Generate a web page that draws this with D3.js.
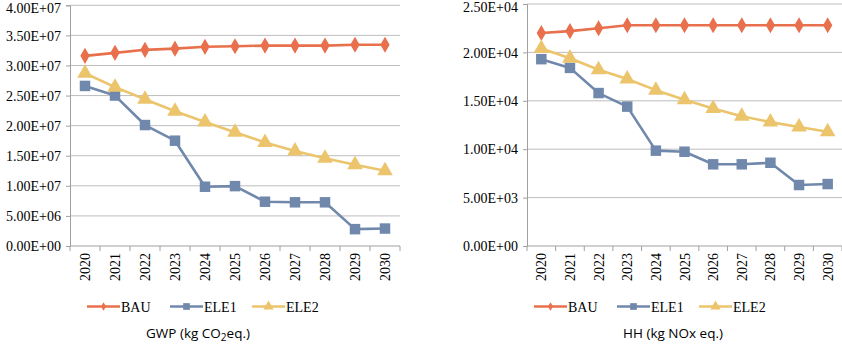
<!DOCTYPE html>
<html>
<head>
<meta charset="utf-8">
<script src="https://cdn.jsdelivr.net/npm/d3@7"></script>
<style>
  body { margin: 0; background: #fff; }
  svg { display: block; }
</style>
</head>
<body>
<svg id="chart" width="842" height="347"></svg>
<script>
const years = ["2020", "2021", "2022", "2023", "2024", "2025", "2026", "2027", "2028", "2029", "2030"];
const seriesNames = ["BAU", "ELE1", "ELE2"];

// GWP (kg CO2 eq.)
const gwpBAU  = [3.16e7, 3.21e7, 3.26e7, 3.28e7, 3.31e7, 3.32e7, 3.33e7, 3.33e7, 3.33e7, 3.345e7, 3.345e7];
const gwpELE1 = [2.66e7, 2.50e7, 2.01e7, 1.75e7, 0.985e7, 0.995e7, 0.736e7, 0.726e7, 0.726e7, 0.28e7, 0.29e7];
const gwpELE2 = [2.87e7, 2.64e7, 2.44e7, 2.24e7, 2.06e7, 1.89e7, 1.72e7, 1.58e7, 1.46e7, 1.35e7, 1.25e7];
const gwpTicks = [0, 0.5e7, 1.0e7, 1.5e7, 2.0e7, 2.5e7, 3.0e7, 3.5e7, 4.0e7];

// HH (kg NOx eq.)
const hhBAU  = [2.20e4, 2.22e4, 2.25e4, 2.28e4, 2.28e4, 2.28e4, 2.28e4, 2.28e4, 2.28e4, 2.28e4, 2.28e4];
const hhELE1 = [1.93e4, 1.84e4, 1.58e4, 1.44e4, 0.985e4, 0.974e4, 0.844e4, 0.844e4, 0.86e4, 0.63e4, 0.64e4];
const hhELE2 = [2.04e4, 1.94e4, 1.82e4, 1.725e4, 1.61e4, 1.51e4, 1.42e4, 1.34e4, 1.28e4, 1.23e4, 1.18e4];
const hhTicks = [0, 0.5e4, 1.0e4, 1.5e4, 2.0e4, 2.5e4];

const colors = { BAU: "#E8704C", ELE1: "#7088AC", ELE2: "#EBC46B" };
const serif = "'Liberation Serif', 'Times New Roman', serif";
const sans = "'Open Sans', 'Noto Sans', sans-serif";

const svg = d3.select("#chart");

function sciFormat(v) {
    const parts = v.toExponential(2).split("e");
    const exp = parseInt(parts[1], 10);
    const sign = exp < 0 ? "-" : "+";
    return parts[0] + "E" + sign + String(Math.abs(exp)).padStart(2, "0");
}

function markerPath(name, size) {
    if (name === "BAU") return d3.symbol(d3.symbolDiamond, size)();
    if (name === "ELE1") return d3.symbol(d3.symbolSquare, size)();
    return d3.symbol(d3.symbolTriangle, size)();
}

function drawChart(opts) {
    const { left, right, top, bottom, max, ticks, series, title, titleX, legendX } = opts;

    const x = d3.scaleBand().domain(years).range([left, right]).padding(0);
    const y = d3.scaleLinear().domain([0, max]).range([bottom, top]);

    const g = svg.append("g");

    // gridlines
    g.selectAll(".grid")
        .data(ticks.filter(t => t > 0))
        .enter()
        .append("line")
        .attr("x1", left)
        .attr("x2", right)
        .attr("y1", d => y(d))
        .attr("y2", d => y(d))
        .attr("stroke", "#BDBDBD")
        .attr("stroke-width", 1);

    // y axis
    const yAxis = g.append("g")
        .attr("transform", `translate(${left},0)`)
        .call(d3.axisLeft(y).tickValues(ticks).tickSize(4).tickPadding(5).tickFormat(sciFormat));
    yAxis.attr("font-family", serif).attr("font-size", 14);
    yAxis.select(".domain").attr("stroke", "#A0A0A0");
    yAxis.selectAll(".tick line").attr("stroke", "#A0A0A0");
    yAxis.selectAll(".tick text")
        .attr("fill", "#000")
        .attr("dy", d => d === max ? "0.5em" : "0.33em");

    // x axis line + ticks at band boundaries
    g.append("line")
        .attr("x1", left).attr("x2", right)
        .attr("y1", bottom).attr("y2", bottom)
        .attr("stroke", "#A0A0A0");
    const bounds = years.map(d => x(d)).concat([right]);
    g.selectAll(".xtick")
        .data(bounds)
        .enter()
        .append("line")
        .attr("x1", d => d).attr("x2", d => d)
        .attr("y1", bottom).attr("y2", bottom + 5)
        .attr("stroke", "#A0A0A0");

    g.selectAll(".year")
        .data(years)
        .enter()
        .append("text")
        .attr("font-family", serif)
        .attr("font-size", 14)
        .attr("transform", d => `translate(${x(d) + x.bandwidth() / 2 + 5},${bottom + 7}) rotate(-90)`)
        .attr("text-anchor", "end")
        .text(d => d);

    // lines
    const line = d3.line()
        .x((d, i) => x(years[i]) + x.bandwidth() / 2)
        .y(d => y(d));

    series.forEach(s => {
        g.append("path")
            .datum(s.values)
            .attr("fill", "none")
            .attr("stroke", colors[s.name])
            .attr("stroke-width", 2.6)
            .attr("stroke-linejoin", "round")
            .attr("d", line);
    });

    series.forEach(s => {
        const size = s.name === "BAU" ? 75 : (s.name === "ELE1" ? 110 : 105);
        g.selectAll(null)
            .data(s.values)
            .enter()
            .append("path")
            .attr("d", markerPath(s.name, size))
            .attr("transform", (d, i) => `translate(${x(years[i]) + x.bandwidth() / 2},${y(d)})`)
            .attr("fill", colors[s.name]);
    });

    // legend
    const legendY = 306.5;
    const legendOffsets = [0, 83, 165];
    seriesNames.forEach((name, i) => {
        const lx = legendX + legendOffsets[i];
        g.append("line")
            .attr("x1", lx).attr("x2", lx + 33)
            .attr("y1", legendY).attr("y2", legendY)
            .attr("stroke", colors[name])
            .attr("stroke-width", 2.6);
        g.append("path")
            .attr("d", markerPath(name, name === "BAU" ? 22 : 45))
            .attr("transform", `translate(${lx + 16.5},${legendY})`)
            .attr("fill", colors[name]);
        g.append("text")
            .attr("font-family", serif)
            .attr("font-size", 14)
            .attr("x", lx + 34)
            .attr("y", legendY + 5)
            .text(name);
    });

    // title
    const t = g.append("text")
        .attr("font-family", sans)
        .attr("font-size", 13.5)
        .attr("x", titleX)
        .attr("y", 338);
    title.forEach(part => {
        const ts = t.append("tspan").text(part.text);
        if (part.sub) ts.attr("dy", 3).attr("font-size", 10);
        else if (part.after) ts.attr("dy", -3);
    });
}

drawChart({
    left: 70, right: 400, top: 5.3, bottom: 246,
    max: 4e7, ticks: gwpTicks,
    series: [
        { name: "BAU", values: gwpBAU },
        { name: "ELE1", values: gwpELE1 },
        { name: "ELE2", values: gwpELE2 }
    ],
    title: [{ text: "GWP (kg CO" }, { text: "2", sub: true }, { text: "eq.)", after: true }],
    titleX: 146,
    legendX: 87
});

drawChart({
    left: 527, right: 842, top: 4, bottom: 246,
    max: 2.5e4, ticks: hhTicks,
    series: [
        { name: "BAU", values: hhBAU },
        { name: "ELE1", values: hhELE1 },
        { name: "ELE2", values: hhELE2 }
    ],
    title: [{ text: "HH (kg NOx eq.)" }],
    titleX: 623,
    legendX: 534
});
</script>
</body>
</html>
